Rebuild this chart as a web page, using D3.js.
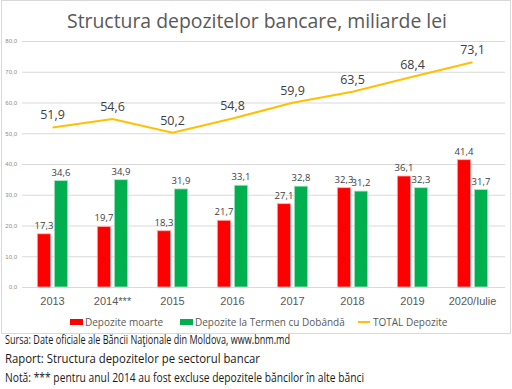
<!DOCTYPE html>
<html>
<head>
<meta charset="utf-8">
<script src="https://cdn.jsdelivr.net/npm/d3@7"></script>
<style>
  body { margin: 0; background: #fff; }
  svg { display: block; font-family: "Open Sans", sans-serif; }
</style>
</head>
<body>
<script>
const width = 512;
const height = 389;

// data
const categories = ["2013", "2014***", "2015", "2016", "2017", "2018", "2019", "2020/Iulie"];
const depoziteMoarte = [17.3, 19.7, 18.3, 21.7, 27.1, 32.3, 36.1, 41.4];
const depoziteTermen = [34.6, 34.9, 31.9, 33.1, 32.8, 31.2, 32.3, 31.7];
const totalDepozite = [51.9, 54.6, 50.2, 54.8, 59.9, 63.5, 68.4, 73.1];
const yTicks = [0, 10, 20, 30, 40, 50, 60, 70, 80];
const seriesNames = ["Depozite moarte", "Depozite la Termen cu Dobândă", "TOTAL Depozite"];
const footerLines = [
    "Sursa: Date oficiale ale Băncii Naţionale din Moldova, www.bnm.md",
    "Raport: Structura depozitelor pe sectorul bancar",
    "Notă: *** pentru anul 2014 au fost excluse depozitele băncilor în alte bănci"
];

const red = "#ff0000";
const green = "#00b050";
const gold = "#ffc000";
const fmt = v => v.toFixed(1).replace(".", ",");

const svg = d3.select("body")
    .append("svg")
    .attr("width", width)
    .attr("height", height);

// chart frame
svg.append("rect")
    .attr("x", 1.5).attr("y", 0.5)
    .attr("width", 509).attr("height", 333)
    .attr("fill", "#fff")
    .attr("stroke", "#d9d9d9");

svg.append("text")
    .attr("x", 257).attr("y", 28)
    .attr("text-anchor", "middle")
    .attr("font-size", 20)
    .attr("fill", "#595959")
    .attr("textLength", 380)
    .attr("lengthAdjust", "spacingAndGlyphs")
    .text("Structura depozitelor bancare, miliarde lei");

const x = d3.scaleBand().domain(categories).range([22.5, 502.5]);
const y = d3.scaleLinear().domain([0, 80]).range([287, 41]);
const xInner = d3.scaleBand().domain([0, 1]).range([-15.2, 15.2]).paddingInner(0.212);
const cx = c => x(c) + x.bandwidth() / 2;

// gridlines + tick labels
const yAxis = svg.append("g")
    .attr("transform", "translate(22,0)")
    .call(d3.axisLeft(y).tickValues(yTicks).tickFormat(fmt).tickSize(-483).tickPadding(5));
yAxis.select(".domain").remove();
yAxis.selectAll(".tick line").attr("stroke", "#d9d9d9").attr("stroke-width", 1);
yAxis.selectAll(".tick text").attr("fill", "#8c8c8c").attr("font-size", 6);

const xAxis = svg.append("g")
    .attr("transform", "translate(0,287)")
    .call(d3.axisBottom(x).tickSize(0).tickPadding(10));
xAxis.select(".domain").remove();
xAxis.selectAll(".tick text").attr("fill", "#595959").attr("font-size", 11);

// bars
const barSeries = [depoziteMoarte, depoziteTermen];
const barColors = [red, green];
barSeries.forEach((vals, si) => {
    const g = svg.append("g");
    g.selectAll("rect")
        .data(vals)
        .join("rect")
        .attr("x", (d, i) => cx(categories[i]) + xInner(si))
        .attr("y", d => y(d))
        .attr("width", xInner.bandwidth())
        .attr("height", d => y(0) - y(d))
        .attr("fill", barColors[si])
        .attr("stroke", si === 0 ? "#ffb3b3" : "#b3e6c8")
        .attr("stroke-width", 0.8);
    g.selectAll("text")
        .data(vals)
        .join("text")
        .attr("x", (d, i) => cx(categories[i]) + xInner(si) + xInner.bandwidth() / 2)
        .attr("y", d => y(d) - 5)
        .attr("text-anchor", "middle")
        .attr("font-size", 9.5)
        .attr("fill", "#404040")
        .text(fmt);
});

// total line
const line = d3.line()
    .x((d, i) => cx(categories[i]))
    .y(d => y(d));
svg.append("path")
    .datum(totalDepozite)
    .attr("d", line)
    .attr("fill", "none")
    .attr("stroke", gold)
    .attr("stroke-width", 2);
svg.append("g").selectAll("text")
    .data(totalDepozite)
    .join("text")
    .attr("x", (d, i) => cx(categories[i]))
    .attr("y", d => y(d) - 8)
    .attr("text-anchor", "middle")
    .attr("font-size", 12.5)
    .attr("fill", "#404040")
    .text(fmt);

// legend
const legend = svg.append("g");
const legendX = [70, 180, 358];
legend.append("rect").attr("x", legendX[0]).attr("y", 319).attr("width", 13).attr("height", 6).attr("fill", red);
legend.append("rect").attr("x", legendX[1]).attr("y", 319).attr("width", 13).attr("height", 6).attr("fill", green);
legend.append("line").attr("x1", legendX[2]).attr("x2", legendX[2] + 12).attr("y1", 322).attr("y2", 322)
    .attr("stroke", gold).attr("stroke-width", 2);
legend.selectAll("text")
    .data(seriesNames)
    .join("text")
    .attr("x", (d, i) => legendX[i] + 15)
    .attr("y", 325.5)
    .attr("font-size", 10)
    .attr("fill", "#595959")
    .text(d => d);

// footer notes
const footerLen = [285, 255, 359];
svg.append("g").selectAll("text")
    .data(footerLines)
    .join("text")
    .attr("x", 5)
    .attr("y", (d, i) => 344 + i * 19)
    .attr("font-size", 12.5)
    .attr("fill", "#1a1a1a")
    .attr("textLength", (d, i) => footerLen[i])
    .attr("lengthAdjust", "spacingAndGlyphs")
    .text(d => d);
</script>
</body>
</html>
